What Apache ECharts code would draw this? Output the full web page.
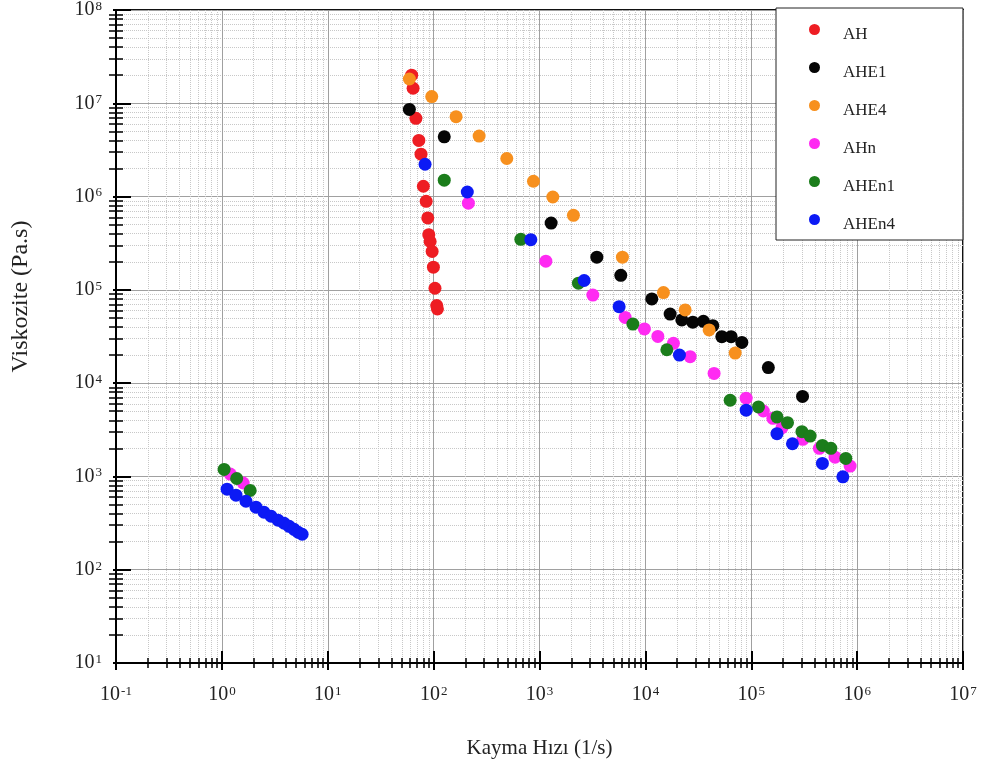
<!DOCTYPE html>
<html>
<head>
<meta charset="utf-8">
<script src="https://cdn.jsdelivr.net/npm/echarts@6/dist/echarts.min.js"></script>
<style>
  html, body { margin: 0; padding: 0; background: #fff; }
  #chart { width: 982px; height: 776px; }
</style>
</head>
<body>
<div id="chart"></div>
<script>
const seriesNames = ["AH", "AHE1", "AHE4", "AHn", "AHEn1", "AHEn4"];
const seriesColors = ["#ee1d23", "#050505", "#f7901e", "#ff2af2", "#1b7d1b", "#0c1af5"];

// shear rate (1/s) / viscosity (Pa.s)
const ahX = [62, 64, 68, 72.5, 76, 80, 85, 88, 90, 92.7, 96.8, 99.5, 103, 107, 108.6];
const ahY = [2.0e7, 1.45e7, 6.9e6, 4.0e6, 2.85e6, 1.29e6, 8.9e5, 5.9e5, 3.9e5, 3.3e5, 2.58e5, 1.75e5, 1.04e5, 6.8e4, 6.25e4];

const ahe1X = [59, 126, 1288, 3480, 5860, 11510, 17140, 22100, 28050, 35330, 43350, 52720, 64570, 81500, 1.45e5, 3.05e5];
const ahe1Y = [8.6e6, 4.37e6, 5.2e5, 2.24e5, 1.43e5, 8.0e4, 5.5e4, 4.76e4, 4.5e4, 4.6e4, 4.13e4, 3.15e4, 3.15e4, 2.73e4, 1.47e4, 7.2e3];

const ahe4X = [59, 96, 163, 269, 491, 877, 1336, 2091, 6070, 14820, 23760, 40000, 70500];
const ahe4Y = [1.82e7, 1.18e7, 7.18e6, 4.45e6, 2.56e6, 1.46e6, 9.9e5, 6.3e5, 2.24e5, 9.35e4, 6.1e4, 3.72e4, 2.1e4];

const ahnX = [1.20, 1.59, 213, 1148, 3190, 6440, 9800, 13120, 18400, 26480, 44570, 89500, 1.30e5, 1.60e5, 1.95e5, 3.07e5, 4.40e5, 6.19e5, 8.59e5];
const ahnY = [1060, 850, 8.5e5, 2.03e5, 8.8e4, 5.07e4, 3.81e4, 3.17e4, 2.67e4, 1.92e4, 1.27e4, 6.9e3, 5.03e3, 4.2e3, 3.33e3, 2.5e3, 2.0e3, 1.61e3, 1.29e3];

const ahen1X = [1.05, 1.38, 1.85, 126, 666, 2333, 7620, 15950, 63200, 1.17e5, 1.75e5, 2.20e5, 3.01e5, 3.60e5, 4.70e5, 5.65e5, 7.82e5];
const ahen1Y = [1190, 950, 707, 1.5e6, 3.48e5, 1.18e5, 4.3e4, 2.28e4, 6.56e3, 5.56e3, 4.34e3, 3.77e3, 3.02e3, 2.71e3, 2.15e3, 2.0e3, 1.56e3];

const ahen4X = [1.12, 1.36, 1.69, 2.10, 2.50, 2.92, 3.40, 3.87, 4.32, 4.81, 5.25, 5.73, 83, 208, 828, 2640, 5650, 20980, 89500, 1.75e5, 2.45e5, 4.70e5, 7.33e5];
const ahen4Y = [730, 630, 542, 468, 413, 374, 339, 315, 292, 271, 252, 240, 2.22e6, 1.12e6, 3.45e5, 1.26e5, 6.6e4, 2.0e4, 5.13e3, 2.87e3, 2.24e3, 1.38e3, 990];

const xs = [ahX, ahe1X, ahe4X, ahnX, ahen1X, ahen4X];
const ys = [ahY, ahe1Y, ahe4Y, ahnY, ahen1Y, ahen4Y];

const serif = '"Liberation Serif", "Times New Roman", serif';

const powLabel = (v) => "{b|10}{s|" + Math.round(Math.log10(v)) + "}";
const powRich = {
	b: { fontFamily: serif, fontSize: 20, color: "#222" },
	s: { fontFamily: serif, fontSize: 13, color: "#222", verticalAlign: "top", padding: [0, 0, 6, 1] },
};

// log axis: the same scale twice, once for ticks inside, once for the part sticking out
function logAxis(min, max, inLen, outLen, minorLen, extra) {
	const base = {
		type: "log",
		logBase: 10,
		min,
		max,
	};
	const main = Object.assign({}, base, {
		axisLine: { lineStyle: { color: "#000", width: 2 } },
		axisTick: { inside: true, length: inLen, lineStyle: { color: "#000", width: 2 } },
		minorTick: { show: true, splitNumber: 9, length: minorLen, lineStyle: { color: "#000", width: 1.5 } },
		axisLabel: { formatter: powLabel, rich: powRich },
		splitLine: { show: true, lineStyle: { color: "#a0a0a0", width: 1 } },
		minorSplitLine: { show: true, lineStyle: { color: "#c8c8c8", type: "dotted", width: 1 } },
	}, extra);
	const outer = Object.assign({}, base, {
		position: extra.position,
		axisLine: { show: false },
		axisTick: { inside: false, length: outLen, lineStyle: { color: "#000", width: 2 } },
		minorTick: { show: true, splitNumber: 9, length: minorLen, lineStyle: { color: "#000", width: 1.5 } },
		axisLabel: { show: false },
		splitLine: { show: false },
	});
	return [main, outer];
}

const xAxes = logAxis(0.1, 1e7, 12, 7, 5, {
	position: "bottom",
	name: "Kayma Hızı (1/s)",
	nameLocation: "middle",
	nameGap: 75,
	nameTextStyle: { fontFamily: serif, fontSize: 21, color: "#222" },
});
xAxes[0].axisLabel.margin = 22;

const yAxes = logAxis(10, 1e8, 15, 3, 7, {
	position: "left",
	name: "Viskozite (Pa.s)",
	nameLocation: "middle",
	nameGap: 83,
	nameTextStyle: { fontFamily: serif, fontSize: 24, color: "#222", padding: [0, 0, 0, 80] },
});
yAxes[0].axisLabel.margin = 14;

const chart = echarts.init(document.getElementById("chart"));

chart.setOption({
	animation: false,
	backgroundColor: "#fff",
	grid: { left: 116, right: 19, top: 10, bottom: 113, show: true, borderColor: "#111", borderWidth: 2 },
	legend: {
		orient: "vertical",
		left: 776,
		top: 8,
		padding: [8, 68, 7, 33],
		itemGap: 11,
		itemWidth: 11,
		itemHeight: 11,
		icon: "circle",
		backgroundColor: "#fff",
		borderColor: "#222",
		borderWidth: 1,
		formatter: (name) => "{g|}{t|" + name + "}",
		textStyle: {
			rich: {
				g: { width: 18, lineHeight: 18, padding: [10, 0, 0, 0] },
				t: { fontFamily: serif, fontSize: 17, color: "#222", lineHeight: 18, padding: [10, 0, 0, 0] },
			},
		},
		data: seriesNames,
	},
	xAxis: xAxes,
	yAxis: yAxes,
	series: seriesNames.map((name, i) => ({
		name,
		type: "scatter",
		xAxisIndex: 0,
		yAxisIndex: 0,
		symbolSize: 13,
		itemStyle: { color: seriesColors[i], opacity: 1 },
		data: xs[i].map((x, j) => [x, ys[i][j]]),
	})),
});
</script>
</body>
</html>
